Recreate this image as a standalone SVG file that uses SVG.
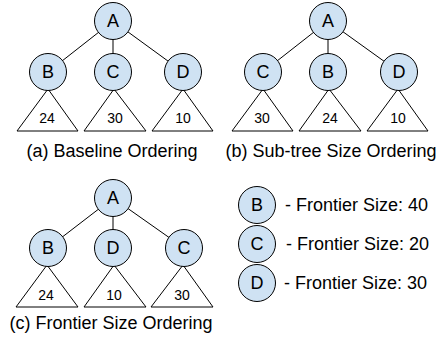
<svg xmlns="http://www.w3.org/2000/svg" width="439" height="339" viewBox="0 0 439 339">
  <style>
    .edge { stroke: #000; stroke-width: 1; fill: none; }
    .node circle { fill: #cfe2f3; stroke: #000; stroke-width: 1; }
    .node text { font-family: "Liberation Sans", Arial, sans-serif; font-size: 18px; fill: #000; text-anchor: middle; dominant-baseline: central; }
    .sub polygon { fill: #fff; stroke: #000; stroke-width: 1; }
    .sub text { font-family: "Liberation Sans", Arial, sans-serif; font-size: 14px; fill: #000; text-anchor: middle; }
    .cap { font-family: "Liberation Sans", Arial, sans-serif; font-size: 18px; fill: #000; text-anchor: middle; }
    .leg { font-family: "Liberation Sans", Arial, sans-serif; font-size: 18px; fill: #000; }
  </style>

  <!-- connectors: drawn first so the filled circles cover the ends -->
  <g id="connectors">
    <!-- tree a -->
    <line class="edge" x1="113" y1="21" x2="48" y2="72"/>
    <line class="edge" x1="113" y1="21" x2="113" y2="72"/>
    <line class="edge" x1="113" y1="21" x2="183" y2="72"/>
    <!-- tree b -->
    <line class="edge" x1="328" y1="21" x2="263" y2="72"/>
    <line class="edge" x1="328" y1="21" x2="328" y2="72"/>
    <line class="edge" x1="328" y1="21" x2="399" y2="72"/>
    <!-- tree c -->
    <line class="edge" x1="113" y1="198" x2="48" y2="248"/>
    <line class="edge" x1="113" y1="198" x2="113" y2="248"/>
    <line class="edge" x1="113" y1="198" x2="184" y2="248"/>
  </g>

  <!-- (a) Baseline Ordering -->
  <g id="a-sub-B" class="sub"><polygon points="48,89 17,131 78,131"/><text x="47" y="123">24</text></g>
  <g id="a-sub-C" class="sub"><polygon points="114,89 84,131 146,131"/><text x="115" y="123">30</text></g>
  <g id="a-sub-D" class="sub"><polygon points="183,89 152,131 213,131"/><text x="183" y="123">10</text></g>
  <g id="a-A" class="node"><circle cx="113" cy="21" r="18.5"/><text x="113" y="21">A</text></g>
  <g id="a-B" class="node"><circle cx="48" cy="72" r="18.5"/><text x="48" y="72">B</text></g>
  <g id="a-C" class="node"><circle cx="113" cy="72" r="18.5"/><text x="113" y="72">C</text></g>
  <g id="a-D" class="node"><circle cx="183" cy="72" r="18.5"/><text x="183" y="72">D</text></g>
  <text class="cap" x="112" y="157">(a) Baseline Ordering</text>

  <!-- (b) Sub-tree Size Ordering -->
  <g id="b-sub-C" class="sub"><polygon points="263,89 232,131 293,131"/><text x="262" y="123">30</text></g>
  <g id="b-sub-B" class="sub"><polygon points="329,89 299,131 361,131"/><text x="330" y="123">24</text></g>
  <g id="b-sub-D" class="sub"><polygon points="398,89 367,131 428,131"/><text x="398" y="123">10</text></g>
  <g id="b-A" class="node"><circle cx="328" cy="21" r="18.5"/><text x="328" y="21">A</text></g>
  <g id="b-C" class="node"><circle cx="263" cy="72" r="18.5"/><text x="263" y="72">C</text></g>
  <g id="b-B" class="node"><circle cx="328" cy="72" r="18.5"/><text x="328" y="72">B</text></g>
  <g id="b-D" class="node"><circle cx="399" cy="72" r="18.5"/><text x="399" y="72">D</text></g>
  <text class="cap" x="331" y="157">(b) Sub-tree Size Ordering</text>

  <!-- (c) Frontier Size Ordering -->
  <g id="c-sub-B" class="sub"><polygon points="47,265 16,307 78,307"/><text x="46" y="300">24</text></g>
  <g id="c-sub-D" class="sub"><polygon points="114,265 84,307 146,307"/><text x="114" y="300">10</text></g>
  <g id="c-sub-C" class="sub"><polygon points="183,265 151,307 213,307"/><text x="182" y="300">30</text></g>
  <g id="c-A" class="node"><circle cx="113" cy="198" r="18.5"/><text x="113" y="198">A</text></g>
  <g id="c-B" class="node"><circle cx="48" cy="248" r="18.5"/><text x="48" y="248">B</text></g>
  <g id="c-D" class="node"><circle cx="113" cy="248" r="18.5"/><text x="113" y="248">D</text></g>
  <g id="c-C" class="node"><circle cx="184" cy="248" r="18.5"/><text x="184" y="248">C</text></g>
  <text class="cap" x="111" y="329">(c) Frontier Size Ordering</text>

  <!-- legend -->
  <g id="leg-B" class="node"><circle cx="257" cy="205" r="18.5"/><text x="257" y="205">B</text></g>
  <g id="leg-C" class="node"><circle cx="257" cy="244" r="18.5"/><text x="257" y="244">C</text></g>
  <g id="leg-D" class="node"><circle cx="257" cy="283" r="18.5"/><text x="257" y="283">D</text></g>
  <text class="leg" x="285" y="211">- Frontier Size: 40</text>
  <text class="leg" x="286" y="250">- Frontier Size: 20</text>
  <text class="leg" x="284" y="289">- Frontier Size: 30</text>
</svg>
